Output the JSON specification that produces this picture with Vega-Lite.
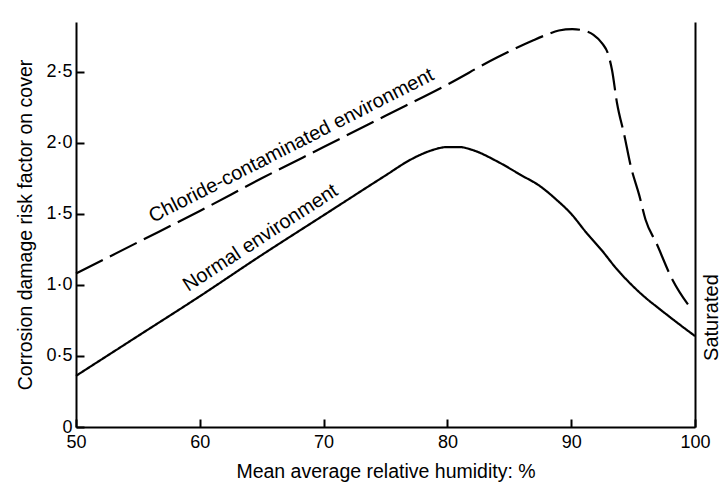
{
  "$schema": "https://vega.github.io/schema/vega-lite/v6.json",
  "width": 619,
  "height": 405,
  "autosize": "none",
  "padding": {"left": 76, "top": 22, "right": 26, "bottom": 57},
  "background": "white",
  "config": {
    "view": {"stroke": null},
    "font": "Liberation Sans",
    "axis": {
      "domainColor": "black",
      "domainWidth": 2,
      "tickColor": "black",
      "tickWidth": 2,
      "labelColor": "black",
      "titleColor": "black",
      "labelFont": "Liberation Sans",
      "titleFont": "Liberation Sans",
      "labelFontSize": 18,
      "titleFontSize": 19.5,
      "titleFontWeight": "normal",
      "labelFlush": false,
      "grid": false
    }
  },
  "datasets": {
    "curves": [
      {"environment": "Normal", "humidity": 50, "risk": 0.36},
      {"environment": "Normal", "humidity": 55, "risk": 0.64},
      {"environment": "Normal", "humidity": 60, "risk": 0.92},
      {"environment": "Normal", "humidity": 65, "risk": 1.21},
      {"environment": "Normal", "humidity": 70, "risk": 1.49},
      {"environment": "Normal", "humidity": 75, "risk": 1.77},
      {"environment": "Normal", "humidity": 77, "risk": 1.88},
      {"environment": "Normal", "humidity": 78.5, "risk": 1.94},
      {"environment": "Normal", "humidity": 80, "risk": 1.97},
      {"environment": "Normal", "humidity": 81, "risk": 1.97},
      {"environment": "Normal", "humidity": 82, "risk": 1.95},
      {"environment": "Normal", "humidity": 84, "risk": 1.87},
      {"environment": "Normal", "humidity": 86, "risk": 1.77},
      {"environment": "Normal", "humidity": 87.4, "risk": 1.70},
      {"environment": "Normal", "humidity": 88.8, "risk": 1.60},
      {"environment": "Normal", "humidity": 90, "risk": 1.50},
      {"environment": "Normal", "humidity": 91.2, "risk": 1.37},
      {"environment": "Normal", "humidity": 92.5, "risk": 1.24},
      {"environment": "Normal", "humidity": 93.6, "risk": 1.12},
      {"environment": "Normal", "humidity": 95, "risk": 0.99},
      {"environment": "Normal", "humidity": 96, "risk": 0.91},
      {"environment": "Normal", "humidity": 97, "risk": 0.84},
      {"environment": "Normal", "humidity": 98.1, "risk": 0.765},
      {"environment": "Normal", "humidity": 99, "risk": 0.705},
      {"environment": "Normal", "humidity": 100, "risk": 0.64},
      {"environment": "Chloride-contaminated", "humidity": 50, "risk": 1.08},
      {"environment": "Chloride-contaminated", "humidity": 55, "risk": 1.30},
      {"environment": "Chloride-contaminated", "humidity": 60, "risk": 1.52},
      {"environment": "Chloride-contaminated", "humidity": 65, "risk": 1.75},
      {"environment": "Chloride-contaminated", "humidity": 70, "risk": 1.97},
      {"environment": "Chloride-contaminated", "humidity": 75, "risk": 2.19},
      {"environment": "Chloride-contaminated", "humidity": 80, "risk": 2.41},
      {"environment": "Chloride-contaminated", "humidity": 84, "risk": 2.60},
      {"environment": "Chloride-contaminated", "humidity": 86.9, "risk": 2.72},
      {"environment": "Chloride-contaminated", "humidity": 88, "risk": 2.76},
      {"environment": "Chloride-contaminated", "humidity": 89, "risk": 2.79},
      {"environment": "Chloride-contaminated", "humidity": 90.1, "risk": 2.80},
      {"environment": "Chloride-contaminated", "humidity": 91, "risk": 2.79},
      {"environment": "Chloride-contaminated", "humidity": 91.8, "risk": 2.76},
      {"environment": "Chloride-contaminated", "humidity": 92.5, "risk": 2.70},
      {"environment": "Chloride-contaminated", "humidity": 93.0, "risk": 2.62},
      {"environment": "Chloride-contaminated", "humidity": 93.3, "risk": 2.51},
      {"environment": "Chloride-contaminated", "humidity": 93.7, "risk": 2.28},
      {"environment": "Chloride-contaminated", "humidity": 94.3, "risk": 2.05},
      {"environment": "Chloride-contaminated", "humidity": 94.8, "risk": 1.84},
      {"environment": "Chloride-contaminated", "humidity": 95.5, "risk": 1.63},
      {"environment": "Chloride-contaminated", "humidity": 96.0, "risk": 1.46},
      {"environment": "Chloride-contaminated", "humidity": 96.9, "risk": 1.29},
      {"environment": "Chloride-contaminated", "humidity": 98.1, "risk": 1.05},
      {"environment": "Chloride-contaminated", "humidity": 99.7, "risk": 0.83}
    ],
    "labels": [
      {"name": "chloride", "text": "Chloride-contaminated environment", "humidity": 67.4, "risk": 1.98},
      {"name": "normal", "text": "Normal environment", "humidity": 64.9, "risk": 1.33},
      {"name": "saturated", "text": "Saturated", "humidity": 100, "risk": 0.77}
    ]
  },
  "layer": [
    {
      "data": {"name": "curves"},
      "mark": {"type": "line", "interpolate": "monotone", "strokeWidth": 2.2, "color": "black"},
      "encoding": {
        "x": {
          "field": "humidity", "type": "quantitative",
          "scale": {"domain": [50, 100], "nice": false, "zero": false},
          "axis": {
            "title": "Mean average relative humidity: %",
            "values": [50, 60, 70, 80, 90, 100],
            "tickSize": -8,
            "labelPadding": 14,
            "titlePadding": 11
          }
        },
        "y": {
          "field": "risk", "type": "quantitative",
          "scale": {"domain": [0, 2.85], "nice": false},
          "axis": {
            "title": "Corrosion damage risk factor on cover",
            "values": [0, 0.5, 1, 1.5, 2, 2.5],
            "labelExpr": "datum.value == 0 ? '0' : replace(format(datum.value, '.1f'), '.', '·')",
            "tickSize": -8,
            "labelPadding": 12,
            "titlePadding": 10
          }
        },
        "strokeDash": {
          "field": "environment", "type": "nominal",
          "scale": {"domain": ["Normal", "Chloride-contaminated"], "range": [[1, 0], [30, 8]]},
          "legend": null
        },
        "detail": {"field": "environment"}
      }
    },
    {
      "data": {"name": "labels"},
      "transform": [{"filter": "datum.name == 'chloride'"}],
      "mark": {"type": "text", "angle": -27, "fontSize": 20, "font": "Liberation Sans", "align": "center", "baseline": "middle", "color": "black"},
      "encoding": {
        "x": {"field": "humidity", "type": "quantitative"},
        "y": {"field": "risk", "type": "quantitative", "axis": null},
        "text": {"field": "text"}
      }
    },
    {
      "data": {"name": "labels"},
      "transform": [{"filter": "datum.name == 'normal'"}],
      "mark": {"type": "text", "angle": -33, "fontSize": 20, "font": "Liberation Sans", "align": "center", "baseline": "middle", "color": "black"},
      "encoding": {
        "x": {"field": "humidity", "type": "quantitative"},
        "y": {"field": "risk", "type": "quantitative", "axis": null},
        "text": {"field": "text"}
      }
    },
    {
      "data": {"name": "labels"},
      "transform": [{"filter": "datum.name == 'saturated'"}],
      "mark": {"type": "text", "angle": -90, "fontSize": 20, "font": "Liberation Sans", "align": "center", "baseline": "middle", "dy": 17, "color": "black"},
      "encoding": {
        "x": {"field": "humidity", "type": "quantitative"},
        "y": {
          "field": "risk", "type": "quantitative",
          "axis": {"orient": "right", "title": null, "labels": false, "ticks": false, "domain": true}
        },
        "text": {"field": "text"}
      }
    }
  ],
  "resolve": {"axis": {"y": "independent"}}
}
